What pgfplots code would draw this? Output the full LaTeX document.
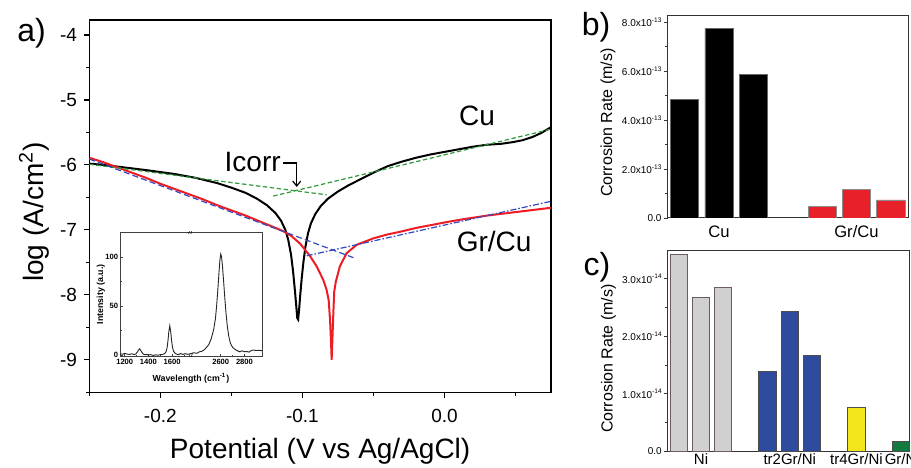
\documentclass[border=0pt]{standalone}
\usepackage{fontspec}
\setmainfont{Liberation Sans}
\usepackage{pgfplots}
\pgfplotsset{compat=1.18}
\usetikzlibrary{arrows.meta}

\definecolor{cgreen}{HTML}{2E9A3A}
\definecolor{cblue}{HTML}{3349C2}
\definecolor{cred}{HTML}{EE1C25}
\definecolor{bred}{HTML}{E8202A}
\definecolor{nigray}{HTML}{D0D0D0}
\definecolor{niedge}{HTML}{6E5C5C}
\definecolor{trblue}{HTML}{2F4B9E}
\definecolor{tryellow}{HTML}{F2E51C}
\definecolor{grgreen}{HTML}{127A3C}

\newcommand{\fs}[1]{\fontsize{#1}{#1}\selectfont}
\newcommand{\sci}[2]{#1x10\raisebox{0.8ex}{\fs{3.3}#2}}

\pgfplotstableread{
x y
1160 1.5
1180 1.0
1200 1.8
1220 1.2
1240 0.8
1260 1.5
1280 0.6
1295 1.5
1305 3.0
1315 5.0
1325 6.5
1335 5.0
1345 2.8
1355 1.2
1370 0.5
1385 0.8
1400 0.2
1420 0.6
1440 -0.3
1460 0.4
1480 0.0
1500 0.6
1520 0.8
1540 2.0
1550 4.0
1558 8.0
1565 15
1572 24
1580 30
1588 24
1595 15
1603 8
1612 4
1625 2
1640 1.0
1655 0.5
1670 1.8
1690 0.8
1710 1.6
1730 0.9
1755 1.5
}\ramanleft

\pgfplotstableread{
x y
2345 1.5
2370 2.5
2400 2.0
2420 3.5
2440 4.0
2460 5.5
2480 8
2500 11
2520 17
2540 26
2555 37
2565 50
2575 66
2585 84
2593 97
2600 103
2607 100
2615 90
2625 74
2635 57
2645 42
2655 30
2668 19
2682 12
2700 8
2720 6
2740 4.5
2760 3.5
2780 4.5
2800 3.5
2820 3.8
2840 3.2
2860 5.0
2880 5.2
2900 4.8
2930 5.0
2948 4.6
}\ramanright

\begin{document}
\begin{tikzpicture}
\useasboundingbox (0,0) rectangle (455.5pt,233.5pt);

% ---------------- panel a ----------------
\begin{axis}[
  at={(44.65pt,37.35pt)}, anchor=south west,
  scale only axis, width=230.85pt, height=186.15pt,
  xmin=-0.25, xmax=0.075, ymin=-9.5, ymax=-3.77,
  xtick={-0.2,-0.1,0}, xticklabels={-0.2,-0.1,0.0},
  minor xtick={-0.25,-0.15,-0.05,0.05},
  ytick={-9,-8,-7,-6,-5,-4}, yticklabels={-9,-8,-7,-6,-5,-4},
  minor ytick={-9.5,-8.5,-7.5,-6.5,-5.5,-4.5},
  tick align=outside, xtick pos=bottom, ytick pos=left,
  major tick length=2.6pt, minor tick length=1.6pt,
  tick style={black, line width=0.6pt},
  axis line style={line width=0.7pt},
  ticklabel style={font=\fs{9.5}},
  xticklabel style={yshift=-2.2pt},
  xlabel={Potential (V vs Ag/AgCl)},
  ylabel={log (A/cm\textsuperscript{2})},
  label style={font=\fs{14}},
  xlabel style={at={(axis description cs:0.5,-0.158)}, anchor=center},
  ylabel style={at={(axis description cs:-0.12,0.484)}, anchor=center},
]
% Cu
\addplot[black, line width=1pt] coordinates {
(-0.250,-5.98) (-0.240,-6.00) (-0.225,-6.04) (-0.210,-6.08) (-0.200,-6.11)
(-0.190,-6.14) (-0.175,-6.20) (-0.160,-6.28) (-0.150,-6.35) (-0.140,-6.43)
(-0.132,-6.52) (-0.125,-6.62) (-0.119,-6.74) (-0.115,-6.86) (-0.112,-7.00)
(-0.110,-7.15) (-0.108,-7.38) (-0.1065,-7.65) (-0.1052,-7.95) (-0.1042,-8.20)
(-0.1036,-8.36) (-0.1030,-8.38) (-0.1024,-8.25) (-0.1015,-8.00) (-0.1005,-7.75)
(-0.0993,-7.50) (-0.0978,-7.25) (-0.0960,-7.05) (-0.0940,-6.90) (-0.0910,-6.76)
(-0.0870,-6.63) (-0.0820,-6.52) (-0.0750,-6.41) (-0.0680,-6.32) (-0.0600,-6.23)
(-0.0500,-6.12) (-0.0400,-6.02) (-0.0300,-5.95) (-0.0200,-5.89) (-0.0100,-5.84)
(0.000,-5.80) (0.010,-5.76) (0.020,-5.72) (0.030,-5.69) (0.040,-5.675)
(0.048,-5.65) (0.055,-5.62) (0.062,-5.57) (0.068,-5.51) (0.075,-5.42)};
% Gr/Cu
\addplot[cred, line width=1pt] coordinates {
(-0.250,-5.89) (-0.240,-5.96) (-0.230,-6.04) (-0.220,-6.12) (-0.210,-6.20)
(-0.200,-6.29) (-0.190,-6.37) (-0.180,-6.45) (-0.170,-6.53) (-0.160,-6.62)
(-0.150,-6.70) (-0.140,-6.78) (-0.130,-6.87) (-0.120,-6.96) (-0.1135,-7.02)
(-0.108,-7.09) (-0.1017,-7.21) (-0.0947,-7.40) (-0.0900,-7.56) (-0.0853,-7.77)
(-0.0830,-7.92) (-0.0815,-8.08) (-0.0805,-8.40) (-0.0798,-8.75) (-0.0794,-9.00)
(-0.0789,-8.70) (-0.0783,-8.33) (-0.0776,-7.95) (-0.0765,-7.80) (-0.0736,-7.56)
(-0.0689,-7.36) (-0.0618,-7.23) (-0.0500,-7.13) (-0.0400,-7.07) (-0.0313,-7.03)
(-0.0200,-6.97) (-0.0079,-6.92) (0.004,-6.87) (0.015,-6.83) (0.030,-6.78)
(0.045,-6.74) (0.060,-6.70) (0.075,-6.66)};
% Tafel fits
\addplot[cgreen, line width=0.6pt, dash pattern=on 2.2pt off 1.3pt] coordinates {(-0.25,-5.99) (-0.083,-6.46)};
\addplot[cgreen, line width=0.6pt, dash pattern=on 2.2pt off 1.3pt] coordinates {(-0.1205,-6.48) (0.075,-5.45)};
\addplot[cblue, line width=0.6pt, dash pattern=on 3pt off 1.6pt] coordinates {(-0.25,-5.91) (-0.0638,-7.43)};
\addplot[cblue, line width=0.6pt, dash pattern=on 3pt off 1pt on 0.8pt off 1pt] coordinates {(-0.097,-7.40) (0.075,-6.56)};
% annotations
\node[font=\fs{14}] at (axis cs:0.023,-5.25) {Cu};
\node[font=\fs{14}] at (axis cs:0.035,-7.18) {Gr/Cu};
\node[font=\fs{14}] at (axis cs:-0.135,-5.96) {Icorr};
\draw[line width=0.6pt, -{Straight Barb[length=2.5pt,width=4pt]}]
  (axis cs:-0.1135,-5.97) -- (axis cs:-0.104,-5.97) -- (axis cs:-0.104,-6.34);
\end{axis}

% ---------------- inset ----------------
\begin{axis}[
  at={(60pt,55.15pt)}, anchor=south west,
  scale only axis, width=71pt, height=62.35pt,
  xmin=1160, xmax=2358, ymin=-1.5, ymax=125.5,
  axis background/.style={fill=white},
  axis line style={line width=0.4pt, black!75},
  xtick={1200,1400,1600,2010,2210}, xticklabels={1200,1400,1600,2600,2800},
  minor xtick={1300,1500,1700,2110},
  ytick={0,50,100}, yticklabels={0,50,100}, minor ytick={25,75,125},
  tick align=inside, xtick pos=bottom, ytick pos=left,
  major tick length=1.6pt, minor tick length=1pt,
  tick style={line width=0.35pt, black!75},
  ticklabel style={font=\fs{3.8}\bfseries, inner sep=0.8pt},
  xlabel={Wavelength (cm\textsuperscript{-1})},
  ylabel={Intensity (a.u.)},
  label style={font=\fs{4.4}\bfseries},
  xlabel style={at={(axis description cs:0.5,-0.175)}, anchor=center},
  ylabel style={at={(axis description cs:-0.134,0.5)}, anchor=center},
]
\addplot[black!85, line width=0.45pt] table[x=x, y=y] {\ramanleft};
\addplot[black!85, line width=0.45pt, x filter/.expression={x-590}] table[x=x, y=y] {\ramanright};
\node[font=\fs{4}, inner sep=0pt] at (rel axis cs:0.497,0) {//};
\node[font=\fs{4}, inner sep=0pt] at (rel axis cs:0.497,1) {//};
\end{axis}

% ---------------- panel b ----------------
\begin{axis}[
  at={(333.75pt,124.5pt)}, anchor=south west,
  scale only axis, width=120.25pt, height=101.5pt,
  xmin=0.5, xmax=7.5, ymin=0, ymax=8.3e-13,
  scaled y ticks=false,
  ybar, bar width=0.82, bar shift=0pt,
  xtick={2,6}, xticklabels={Cu,Gr/Cu},
  xtick style={draw=none},
  ytick={0,2e-13,4e-13,6e-13,8e-13},
  yticklabels={0.0,\sci{2.0}{-13},\sci{4.0}{-13},\sci{6.0}{-13},\sci{8.0}{-13}},
  minor ytick={1e-13,3e-13,5e-13,7e-13},
  tick align=outside, ytick pos=left,
  major tick length=2pt, minor tick length=1.2pt,
  tick style={line width=0.4pt, black!80},
  axis line style={line width=0.5pt, black!80},
  yticklabel style={font=\fs{5}, inner sep=0.8pt},
  xticklabel style={font=\fs{8.3}, inner sep=1.6pt},
  ylabel={Corrosion Rate (m/s)},
  ylabel style={font=\fs{8}, at={(axis description cs:-0.247,0.47)}, anchor=center},
]
\addplot[fill=black, draw=black!60, line width=0.4pt] coordinates {(1,4.83e-13) (2,7.74e-13) (3,5.86e-13)};
\addplot[fill=bred, draw=black!45, line width=0.4pt] coordinates {(5,0.46e-13) (6,1.18e-13) (7,0.74e-13)};
\end{axis}

% ---------------- panel c ----------------
\begin{axis}[
  at={(333.85pt,7.85pt)}, anchor=south west,
  scale only axis, width=121pt, height=100.65pt,
  xmin=0.5, xmax=11.4, ymin=0, ymax=3.5e-14,
  scaled y ticks=false,
  ybar, bar width=0.79, bar shift=0pt,
  xtick={2,6,9,11}, xticklabels={Ni,tr2Gr/Ni,tr4Gr/Ni,\hspace{1.5pt}Gr/Ni},
  xtick style={draw=none},
  ytick={0,1e-14,2e-14,3e-14},
  yticklabels={0.0,\sci{1.0}{-14},\sci{2.0}{-14},\sci{3.0}{-14}},
  minor ytick={0.5e-14,1.5e-14,2.5e-14},
  tick align=outside, ytick pos=left,
  major tick length=2pt, minor tick length=1.2pt,
  tick style={line width=0.4pt, black!80},
  axis line style={line width=0.5pt, black!80},
  yticklabel style={font=\fs{5}, inner sep=0.8pt},
  xticklabel style={font=\fs{7.5}, inner sep=0.4pt, yshift=1.4pt},
  ylabel={Corrosion Rate (m/s)},
  ylabel style={font=\fs{8}, at={(axis description cs:-0.245,0.46)}, anchor=center},
]
\addplot[fill=nigray, draw=niedge, line width=0.5pt] coordinates {(1,3.43e-14) (2,2.68e-14) (3,2.85e-14)};
\addplot[fill=trblue, draw=black!70, line width=0.5pt] coordinates {(5,1.38e-14) (6,2.43e-14) (7,1.67e-14)};
\addplot[fill=tryellow, draw=black!70, line width=0.5pt] coordinates {(9,0.76e-14)};
\addplot[fill=grgreen, draw=black!70, line width=0.5pt] coordinates {(11,0.17e-14)};
\end{axis}

% panel letters
\node[font=\fs{16}] at (15.75pt,216.75pt) {a)};
\node[font=\fs{16}] at (298pt,220pt) {b)};
\node[font=\fs{16}] at (298.5pt,100pt) {c)};
\end{tikzpicture}
\end{document}
